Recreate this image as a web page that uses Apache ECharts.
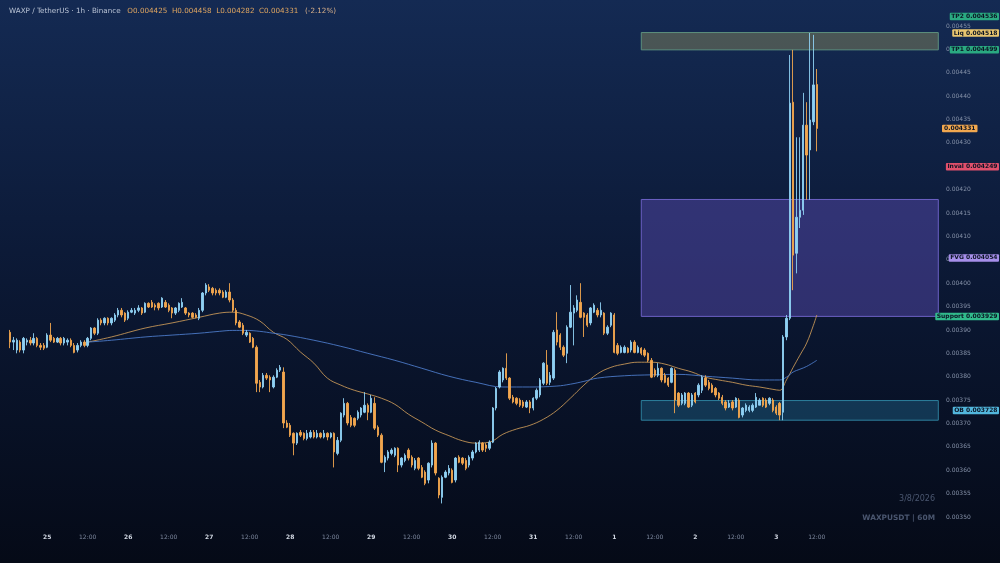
<!DOCTYPE html>
<html><head><meta charset="utf-8">
<script src="https://cdn.jsdelivr.net/npm/echarts@6/dist/echarts.min.js"></script>
<style>html,body{margin:0;padding:0;background:#0a1428;}#c{width:1000px;height:563px;}</style>
</head><body><div id="c"></div>
<script>
// ---- data ----
const opens = [
0.003895,0.003874,0.003857,0.003874,0.003857,0.003874,0.003878,0.003872,0.003882,0.003867,
0.003867,0.003863,0.003889,0.003882,0.003874,0.003882,0.003872,0.003874,0.003878,0.003867,
0.003857,0.003867,0.003874,0.003867,0.003882,0.003904,0.003893,0.003921,0.003915,0.003925,
0.003915,0.003921,0.003932,0.003942,0.003936,0.003925,0.003938,0.003936,0.003942,0.003947,
0.003938,0.003957,0.003959,0.003953,0.003957,0.003949,0.003959,0.003953,0.003947,0.003936,
0.003942,0.003949,0.003947,0.003936,0.003936,0.003932,0.003925,0.003942,0.003979,0.003992,
0.003989,0.003985,0.003985,0.003981,0.003970,0.003981,0.003964,0.003942,0.003917,0.003910,
0.003889,0.003893,0.003882,0.003863,0.003788,0.003778,0.003803,0.003799,0.003778,0.003799,
0.003814,0.003810,0.003701,0.003696,0.003679,0.003658,0.003681,0.003679,0.003668,0.003671,
0.003681,0.003671,0.003679,0.003671,0.003679,0.003671,0.003679,0.003636,0.003664,0.003718,
0.003743,0.003713,0.003711,0.003711,0.003718,0.003724,0.003739,0.003724,0.003743,0.003692,
0.003675,0.003617,0.003626,0.003636,0.003632,0.003647,0.003611,0.003621,0.003643,0.003628,
0.003604,0.003626,0.003606,0.003596,0.003579,0.003611,0.003658,0.003583,0.003542,0.003585,
0.003594,0.003600,0.003579,0.003628,0.003626,0.003621,0.003611,0.003626,0.003639,0.003643,
0.003658,0.003654,0.003647,0.003660,0.003733,0.003778,0.003793,0.003818,0.003797,0.003756,
0.003754,0.003750,0.003746,0.003735,0.003746,0.003733,0.003754,0.003761,0.003786,0.003825,
0.003788,0.003797,0.003900,0.003889,0.003863,0.003850,0.003906,0.003936,0.003942,0.003959,
0.003936,0.003932,0.003915,0.003938,0.003942,0.003932,0.003936,0.003893,0.003910,0.003932,
0.003867,0.003852,0.003852,0.003861,0.003857,0.003874,0.003852,0.003861,0.003857,0.003850,
0.003835,0.003814,0.003803,0.003818,0.003803,0.003797,0.003788,0.003814,0.003765,0.003743,
0.003743,0.003765,0.003739,0.003765,0.003761,0.003771,0.003797,0.003788,0.003782,0.003775,
0.003765,0.003756,0.003746,0.003735,0.003746,0.003735,0.003750,0.003718,0.003728,0.003728,
0.003728,0.003735,0.003739,0.003754,0.003750,0.003743,0.003750,0.003735,0.003743,0.003724,
0.003885,0.003925,0.004387,0.004064,0.004141,0.004156,0.004338,0.004285,0.004345,0.004425];
const closes = [
0.003874,0.003878,0.003878,0.003857,0.003882,0.003878,0.003872,0.003882,0.003867,0.003863,
0.003861,0.003889,0.003878,0.003874,0.003882,0.003872,0.003882,0.003878,0.003867,0.003852,
0.003867,0.003874,0.003867,0.003882,0.003904,0.003893,0.003921,0.003915,0.003925,0.003915,
0.003925,0.003932,0.003942,0.003932,0.003921,0.003938,0.003942,0.003942,0.003947,0.003936,
0.003957,0.003949,0.003949,0.003949,0.003947,0.003968,0.003949,0.003942,0.003936,0.003947,
0.003957,0.003959,0.003936,0.003932,0.003927,0.003927,0.003942,0.003979,0.003996,0.003985,
0.003979,0.003979,0.003979,0.003970,0.003981,0.003964,0.003942,0.003915,0.003906,0.003893,
0.003895,0.003874,0.003863,0.003786,0.003778,0.003803,0.003797,0.003793,0.003799,0.003814,
0.003820,0.003701,0.003692,0.003675,0.003658,0.003679,0.003675,0.003668,0.003679,0.003681,
0.003671,0.003679,0.003671,0.003679,0.003671,0.003679,0.003639,0.003664,0.003722,0.003743,
0.003701,0.003696,0.003696,0.003724,0.003733,0.003739,0.003724,0.003754,0.003690,0.003675,
0.003617,0.003628,0.003639,0.003643,0.003647,0.003611,0.003626,0.003632,0.003626,0.003611,
0.003621,0.003604,0.003585,0.003572,0.003615,0.003658,0.003594,0.003547,0.003585,0.003596,
0.003604,0.003574,0.003626,0.003617,0.003615,0.003604,0.003628,0.003639,0.003658,0.003660,
0.003643,0.003647,0.003660,0.003733,0.003775,0.003810,0.003818,0.003797,0.003754,0.003746,
0.003743,0.003739,0.003737,0.003746,0.003733,0.003754,0.003771,0.003793,0.003829,0.003786,
0.003803,0.003895,0.003874,0.003863,0.003846,0.003906,0.003938,0.003947,0.003964,0.003927,
0.003927,0.003910,0.003947,0.003953,0.003932,0.003942,0.003893,0.003906,0.003936,0.003852,
0.003850,0.003863,0.003863,0.003852,0.003874,0.003852,0.003863,0.003850,0.003846,0.003835,
0.003799,0.003803,0.003818,0.003793,0.003788,0.003782,0.003818,0.003750,0.003739,0.003761,
0.003765,0.003735,0.003761,0.003746,0.003782,0.003799,0.003782,0.003775,0.003767,0.003761,
0.003754,0.003743,0.003733,0.003743,0.003733,0.003754,0.003713,0.003733,0.003739,0.003735,
0.003739,0.003756,0.003750,0.003739,0.003735,0.003754,0.003728,0.003722,0.003718,0.003885,
0.003925,0.004385,0.004060,0.004141,0.004156,0.004338,0.004274,0.004349,0.004424,0.004331];
const highs = [
0.003900,0.003885,0.003882,0.003878,0.003885,0.003882,0.003885,0.003893,0.003885,0.003872,
0.003872,0.003893,0.003915,0.003885,0.003885,0.003885,0.003885,0.003882,0.003882,0.003872,
0.003872,0.003878,0.003878,0.003885,0.003906,0.003906,0.003925,0.003925,0.003927,0.003927,
0.003927,0.003936,0.003947,0.003947,0.003938,0.003942,0.003947,0.003947,0.003953,0.003949,
0.003959,0.003959,0.003964,0.003957,0.003959,0.003970,0.003964,0.003957,0.003949,0.003949,
0.003959,0.003968,0.003949,0.003938,0.003938,0.003936,0.003947,0.003981,0.004000,0.003998,
0.003992,0.003989,0.003989,0.003985,0.003985,0.004000,0.003968,0.003947,0.003921,0.003915,
0.003900,0.003895,0.003885,0.003867,0.003793,0.003808,0.003808,0.003803,0.003803,0.003818,
0.003825,0.003820,0.003707,0.003701,0.003681,0.003681,0.003686,0.003681,0.003686,0.003686,
0.003686,0.003686,0.003681,0.003686,0.003681,0.003681,0.003681,0.003671,0.003724,0.003754,
0.003746,0.003718,0.003713,0.003728,0.003735,0.003767,0.003743,0.003761,0.003756,0.003696,
0.003679,0.003632,0.003643,0.003647,0.003649,0.003649,0.003628,0.003636,0.003647,0.003632,
0.003626,0.003628,0.003611,0.003600,0.003617,0.003664,0.003660,0.003585,0.003589,0.003600,
0.003611,0.003604,0.003628,0.003632,0.003628,0.003626,0.003632,0.003643,0.003660,0.003664,
0.003660,0.003658,0.003664,0.003735,0.003778,0.003814,0.003820,0.003850,0.003799,0.003761,
0.003756,0.003754,0.003750,0.003750,0.003750,0.003756,0.003775,0.003797,0.003831,0.003857,
0.003810,0.003900,0.003938,0.003893,0.003867,0.003910,0.003996,0.003953,0.003974,0.004000,
0.003938,0.003936,0.003949,0.003957,0.003947,0.003959,0.003938,0.003910,0.003938,0.003936,
0.003872,0.003867,0.003867,0.003863,0.003878,0.003878,0.003867,0.003863,0.003861,0.003852,
0.003840,0.003818,0.003829,0.003820,0.003808,0.003799,0.003820,0.003818,0.003767,0.003765,
0.003767,0.003767,0.003765,0.003767,0.003786,0.003803,0.003803,0.003793,0.003786,0.003778,
0.003767,0.003761,0.003750,0.003750,0.003750,0.003756,0.003754,0.003735,0.003743,0.003739,
0.003743,0.003765,0.003754,0.003756,0.003754,0.003756,0.003754,0.003739,0.003746,0.003889,
0.003932,0.004488,0.004499,0.004312,0.004312,0.004407,0.004387,0.004535,0.004531,0.004458];
const lows = [
0.003861,0.003857,0.003850,0.003852,0.003850,0.003867,0.003867,0.003867,0.003863,0.003857,
0.003857,0.003861,0.003874,0.003872,0.003872,0.003867,0.003867,0.003867,0.003863,0.003850,
0.003852,0.003863,0.003863,0.003863,0.003878,0.003889,0.003889,0.003910,0.003910,0.003910,
0.003910,0.003917,0.003927,0.003927,0.003917,0.003921,0.003936,0.003932,0.003938,0.003932,
0.003936,0.003947,0.003947,0.003942,0.003942,0.003947,0.003947,0.003938,0.003925,0.003932,
0.003938,0.003947,0.003932,0.003927,0.003925,0.003925,0.003921,0.003938,0.003974,0.003981,
0.003974,0.003974,0.003974,0.003968,0.003968,0.003959,0.003938,0.003910,0.003904,0.003889,
0.003885,0.003872,0.003861,0.003767,0.003767,0.003775,0.003793,0.003767,0.003775,0.003797,
0.003810,0.003690,0.003690,0.003671,0.003632,0.003654,0.003671,0.003664,0.003664,0.003668,
0.003668,0.003668,0.003668,0.003668,0.003664,0.003668,0.003606,0.003632,0.003660,0.003713,
0.003696,0.003692,0.003692,0.003707,0.003713,0.003722,0.003707,0.003722,0.003686,0.003671,
0.003615,0.003596,0.003621,0.003632,0.003628,0.003596,0.003606,0.003617,0.003621,0.003606,
0.003600,0.003600,0.003583,0.003568,0.003572,0.003606,0.003589,0.003540,0.003529,0.003583,
0.003589,0.003572,0.003574,0.003615,0.003611,0.003600,0.003606,0.003621,0.003636,0.003639,
0.003639,0.003639,0.003643,0.003658,0.003728,0.003775,0.003788,0.003793,0.003750,0.003743,
0.003739,0.003735,0.003733,0.003733,0.003722,0.003728,0.003750,0.003756,0.003782,0.003782,
0.003782,0.003793,0.003867,0.003857,0.003842,0.003829,0.003904,0.003867,0.003938,0.003925,
0.003885,0.003906,0.003910,0.003936,0.003927,0.003927,0.003889,0.003889,0.003906,0.003850,
0.003846,0.003850,0.003850,0.003850,0.003852,0.003850,0.003850,0.003846,0.003842,0.003831,
0.003797,0.003799,0.003799,0.003788,0.003786,0.003778,0.003786,0.003722,0.003735,0.003739,
0.003739,0.003733,0.003735,0.003743,0.003756,0.003765,0.003778,0.003771,0.003765,0.003756,
0.003750,0.003739,0.003728,0.003733,0.003728,0.003733,0.003711,0.003713,0.003724,0.003724,
0.003724,0.003733,0.003739,0.003735,0.003733,0.003739,0.003724,0.003718,0.003707,0.003707,
0.003878,0.003921,0.003985,0.004021,0.004118,0.004146,0.004178,0.004178,0.004338,0.004282];

// moving averages read at sampled candles (candle index -> value)
const maFastIdx = [23,30,40,48,56,62,66,70,74,78,82,86,90,94,98,102,106,110,114,118,122,126,130,134,138,142,146,150,154,158,162,166,170,174,178,182,186,190,194,198,202,206,210,214,218,222,226,228,230,232,234,236,238,239];
const maFastVal = [0.003874,0.003885,0.003904,0.003915,0.003927,0.003936,0.003938,0.003932,0.003919,0.003895,0.003880,0.003853,0.003829,0.003797,0.003782,0.003771,0.003763,0.003754,0.003741,0.003720,0.003703,0.003686,0.003674,0.003663,0.003658,0.003660,0.003677,0.003688,0.003696,0.003709,0.003728,0.003754,0.003782,0.003806,0.003820,0.003827,0.003831,0.003831,0.003827,0.003818,0.003810,0.003799,0.003793,0.003788,0.003782,0.003778,0.003773,0.003771,0.003793,0.003820,0.003846,0.003872,0.003910,0.003932];
const maSlowIdx = [23,30,40,48,56,62,66,70,74,78,82,90,98,106,114,122,130,138,146,154,162,166,170,174,182,190,198,206,214,222,228,230,232,234,236,239];
const maSlowVal = [0.003874,0.003878,0.003885,0.003889,0.003893,0.003897,0.003899,0.003899,0.003897,0.003893,0.003889,0.003878,0.003865,0.003850,0.003835,0.003818,0.003801,0.003788,0.003778,0.003778,0.003780,0.003784,0.003790,0.003797,0.003802,0.003804,0.003805,0.003801,0.003797,0.003793,0.003793,0.003799,0.003810,0.003816,0.003822,0.003835];

const yTicks = [0.00350,0.00355,0.00360,0.00365,0.00370,0.00375,0.00380,0.00385,0.00390,0.00395,0.00400,0.00405,0.00410,0.00415,0.00420,0.00425,0.00430,0.00435,0.00440,0.00445,0.00450,0.00455];

const levelTP2 = 0.004536, levelLiq = 0.004518, levelTP1 = 0.004499;
const levelLast = 0.004331, levelInval = 0.004249;
const levelFVG = 0.004054, levelSupport = 0.003929, levelOB = 0.003728;
const zoneLiq = [0.004536, 0.004499];
const zoneFVG = [0.004179, 0.003929];
const zoneOB = [0.003749, 0.003707];
const zoneStartCandle = 187;

const titleMain = 'WAXP / TetherUS · 1h · Binance';
const titleOHLC = 'O0.004425  H0.004458  L0.004282  C0.004331';
const titleChg = '(-2.12%)';

// ---- categories (hourly slots) ----
const startMs = Date.UTC(2026, 0, 24, 12);
const SLOTS = 277, LAST_LABEL_SLOT = 240;
const categories = [];
for (let k = 0; k < SLOTS; k++) categories.push(new Date(startMs + k * 3600000).toISOString().slice(0, 16));

const candleData = ['-'].concat(opens.map((o, i) => [o, closes[i], lows[i], highs[i]]));
const fastData = maFastIdx.map((i, k) => [i + 1, maFastVal[k]]);
const slowData = maSlowIdx.map((i, k) => [i + 1, maSlowVal[k]]);

const chart = echarts.init(document.getElementById('c'), null, {renderer: 'canvas'});
const FONT = '"DejaVu Sans", sans-serif';
const teal = '#3fbfa3';
const zs = categories[zoneStartCandle + 1], ze = categories[SLOTS - 1];

chart.setOption({
  backgroundColor: new echarts.graphic.LinearGradient(0, 0, 0, 1, [
    {offset: 0, color: '#142a53'}, {offset: 0.5, color: '#0b1834'}, {offset: 1, color: '#050a17'}]),
  animation: false,
  grid: {left: 5, right: 60, top: 5, bottom: 36, outerBoundsMode: 'none', containLabel: false},
  xAxis: {
    type: 'category', data: categories, boundaryGap: true,
    axisLine: {show: false}, axisTick: {show: false}, splitLine: {show: false},
    axisLabel: {
      margin: 7, fontFamily: FONT, hideOverlap: false,
      interval: (idx, val) => { const h = +val.slice(11, 13); return idx > 0 && idx <= LAST_LABEL_SLOT && (h === 0 || h === 12); },
      formatter: (val) => { const h = +val.slice(11, 13); return h === 0 ? '{d|' + (+val.slice(8, 10)) + '}' : '{t|12:00}'; },
      rich: {d: {fontSize: 6, fontWeight: 'bold', color: '#d3d9e4', fontFamily: FONT},
             t: {fontSize: 6, color: '#7d889e', fontFamily: FONT}}
    }
  },
  yAxis: {
    type: 'value', position: 'right', min: 0.0034786, max: 0.0045949, scale: true,
    axisLine: {show: false}, axisTick: {show: false}, splitLine: {show: false},
    axisLabel: {customValues: yTicks, formatter: v => v.toFixed(5), fontSize: 6, color: '#8591a8', margin: 6, fontFamily: FONT}
  },
  series: [
    {
      type: 'candlestick', data: candleData, barWidth: 1.9,
      itemStyle: {color: '#8fd0f3', color0: '#f2a64e', borderColor: '#8fd0f3', borderColor0: '#f2a64e', borderWidth: 0.9},
      markArea: {
        silent: true,
        data: [
          [{xAxis: zs, yAxis: zoneFVG[0], itemStyle: {color: 'rgba(100,84,196,0.42)', borderColor: '#6b60c4', borderWidth: 1}}, {xAxis: ze, yAxis: zoneFVG[1]}],
          [{xAxis: zs, yAxis: zoneOB[0], itemStyle: {color: 'rgba(34,110,150,0.4)', borderColor: '#2d7f9c', borderWidth: 1}}, {xAxis: ze, yAxis: zoneOB[1]}],
          [{xAxis: zs, yAxis: zoneLiq[0], itemStyle: {color: 'rgba(150,150,95,0.42)', borderColor: '#5d8f7d', borderWidth: 1}}, {xAxis: ze, yAxis: zoneLiq[1]}]
        ]
      },
      markLine: {
        silent: true, symbol: 'none', label: {show: false},
        data: [
          {yAxis: levelTP2, lineStyle: {color: teal, width: 1, type: 'solid'}},
          {yAxis: levelTP1, lineStyle: {color: teal, width: 1, type: 'solid'}},
          {yAxis: levelSupport, lineStyle: {color: teal, width: 1, type: 'solid'}},
          {yAxis: levelLast, lineStyle: {color: 'rgba(190,150,110,0.7)', width: 1, type: [1, 2]}},
          {yAxis: levelInval, lineStyle: {color: '#d24b66', width: 1, type: [4, 3]}}
        ]
      },
      z: 3
    },
    {type: 'line', data: fastData, smooth: 0.4, symbol: 'none', lineStyle: {color: '#d9a35c', width: 0.9, opacity: 0.9}, z: 2},
    {type: 'line', data: slowData, smooth: 0.4, symbol: 'none', lineStyle: {color: '#4f7fd0', width: 0.9, opacity: 0.95}, z: 2}
  ]
});

// ---- right-hand tags & texts ----
const yPix = v => chart.convertToPixel({yAxisIndex: 0}, v);
const tags = [
  {text: 'TP2 ' + levelTP2.toFixed(6), v: levelTP2, bg: '#2aa981', dy: -16},
  {text: 'Liq ' + levelLiq.toFixed(6), v: levelLiq, bg: '#e8c56f', dy: -8},
  {text: 'TP1 ' + levelTP1.toFixed(6), v: levelTP1, bg: '#2aa981', dy: 0},
  {text: 'Inval ' + levelInval.toFixed(6), v: levelInval, bg: '#e0506c', dy: 0},
  {text: 'FVG ' + levelFVG.toFixed(6), v: levelFVG, bg: '#a68fea', dy: 0},
  {text: 'Support ' + levelSupport.toFixed(6), v: levelSupport, bg: '#31bb8c', dy: 0},
  {text: 'OB ' + levelOB.toFixed(6), v: levelOB, bg: '#52b6dc', dy: 0}
];
const g = tags.map(t => ({
  type: 'text', x: 999, y: yPix(t.v) + t.dy, z: 100,
  style: {text: t.text, align: 'right', verticalAlign: 'middle', fill: '#0b1424', font: 'bold 6px "DejaVu Sans"',
          backgroundColor: t.bg, padding: [1, 1.5, 0.5, 1.5], borderRadius: 1}
}));
g.push({type: 'text', x: 942, y: yPix(levelLast), z: 100,
  style: {text: levelLast.toFixed(6), align: 'left', verticalAlign: 'middle', fill: '#0b1424', font: 'bold 6px "DejaVu Sans"',
          backgroundColor: '#f1a74f', padding: [1, 2, 0.5, 2], borderRadius: 1}});
g.push({type: 'text', x: 9, y: 11, z: 100,
  style: {text: '{a|' + titleMain + '}  {b|' + titleOHLC + '}  {c|' + titleChg + '}', verticalAlign: 'middle',
    rich: {a: {fill: '#b9c3d5', font: '7.2px "DejaVu Sans"'}, b: {fill: '#e0a660', font: '7.2px "DejaVu Sans"'}, c: {fill: '#d8b08a', font: '7.2px "DejaVu Sans"'}}}});
g.push({type: 'text', x: 935, y: 499, z: 100, style: {text: '3/8/2026', align: 'right', verticalAlign: 'middle', fill: '#4b5770', font: '8px "DejaVu Sans"'}});
g.push({type: 'text', x: 935, y: 518, z: 100, style: {text: 'WAXPUSDT | 60M', align: 'right', verticalAlign: 'middle', fill: '#4a566f', font: 'bold 7.4px "DejaVu Sans"'}});
chart.setOption({graphic: g});
</script>
</body></html>
